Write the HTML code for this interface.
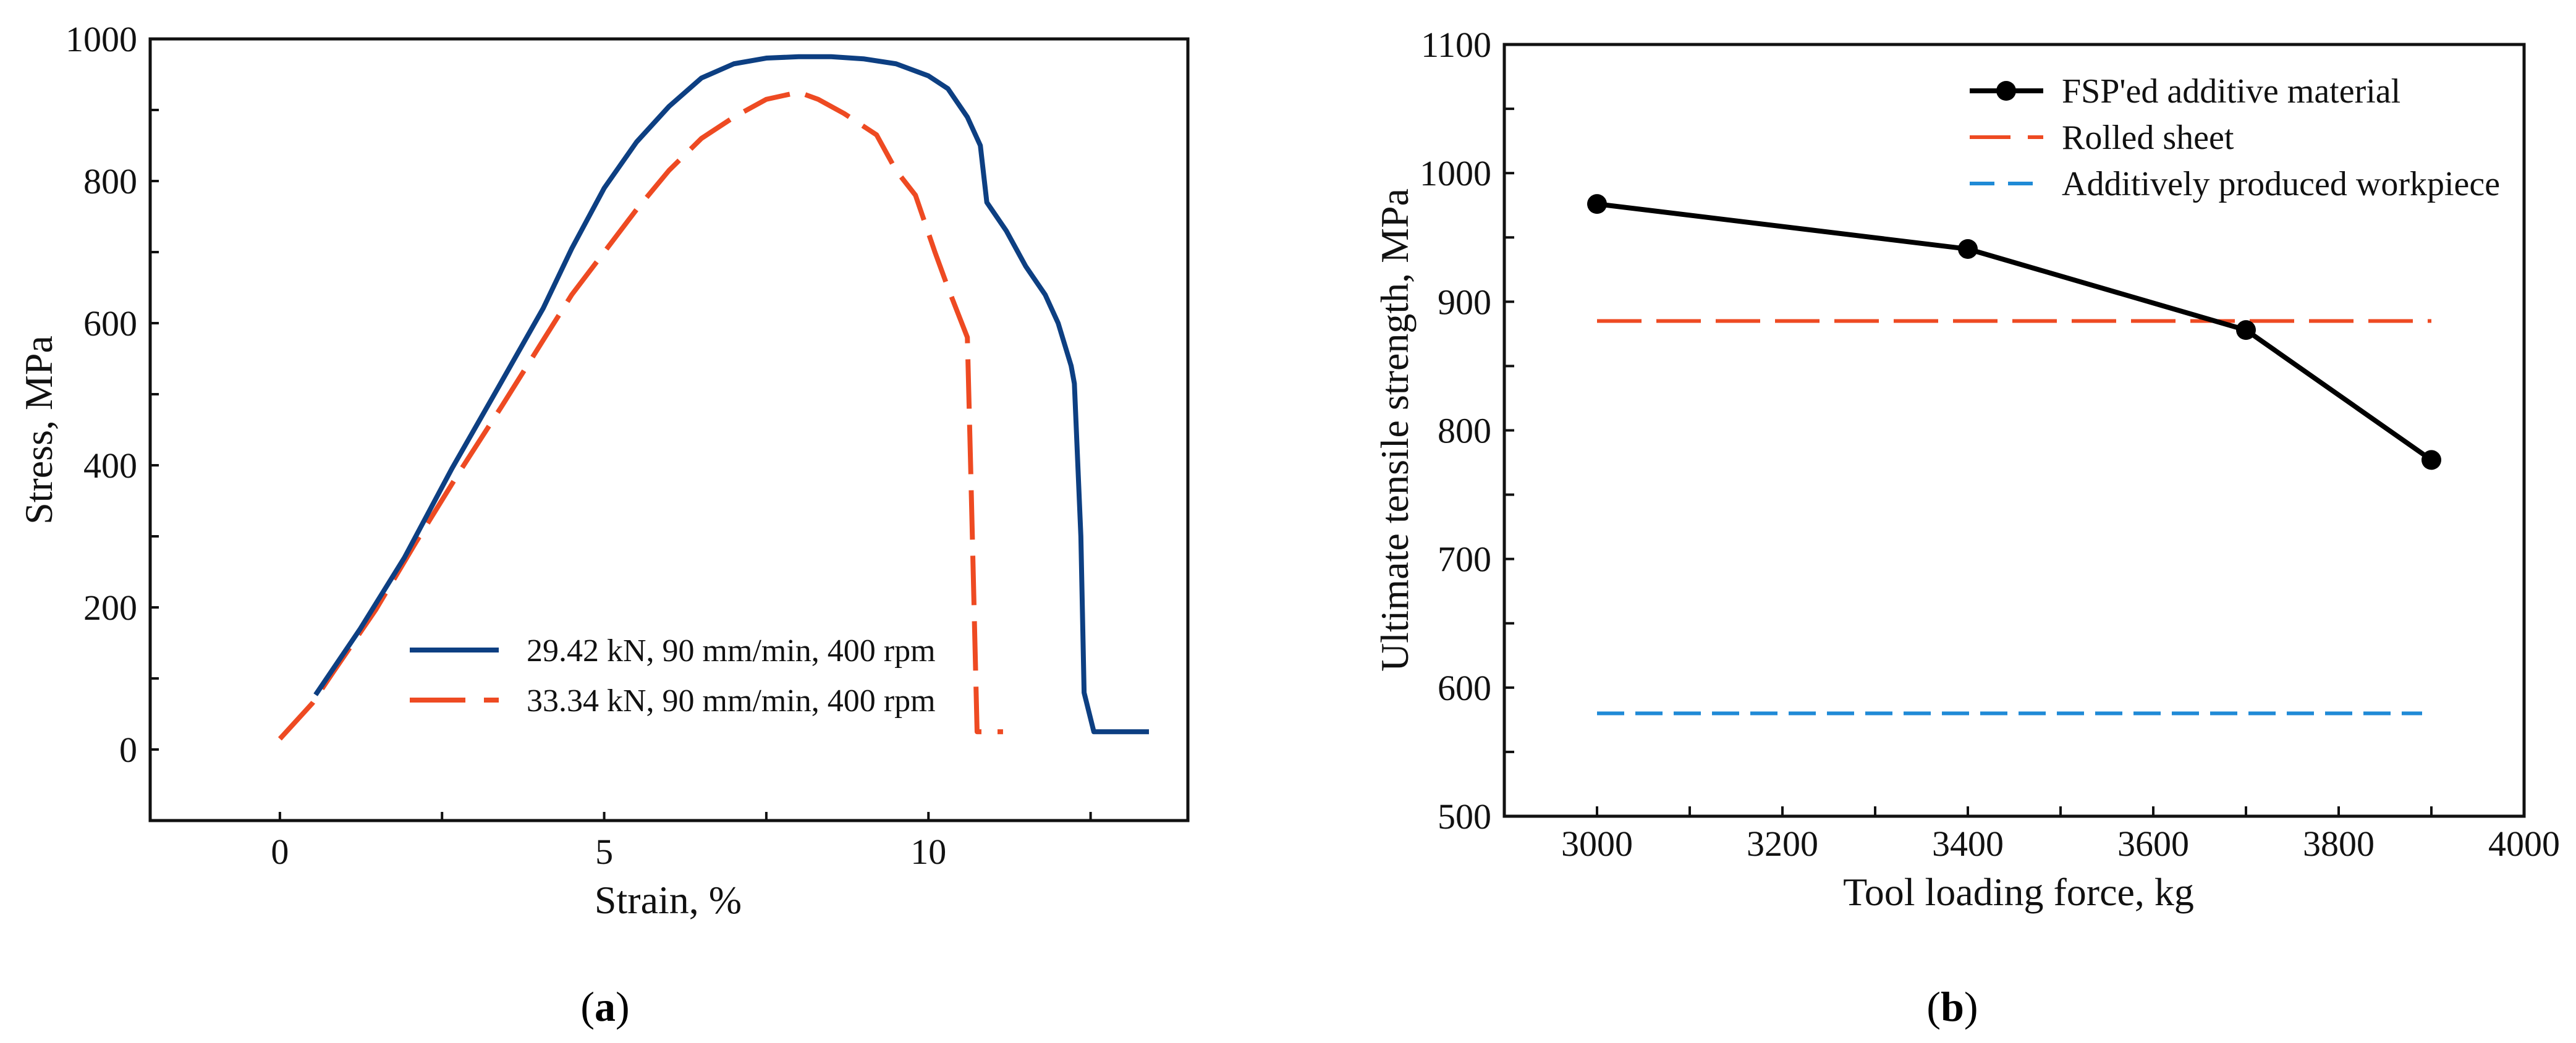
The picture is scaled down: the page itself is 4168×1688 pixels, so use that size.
<!DOCTYPE html>
<html><head><meta charset="utf-8">
<style>
html,body{margin:0;padding:0;background:#fff;}
svg{display:block;font-family:"Liberation Serif","Times New Roman",serif;}
</style></head>
<body>
<svg id="fig" width="4168" height="1688" viewBox="0 0 4168 1688" xmlns="http://www.w3.org/2000/svg">
<rect width="4168" height="1688" fill="#fff"/>
<g id="ga"></g>
<g id="gb"></g>
<text x="979" y="1652" font-size="68" text-anchor="middle">(<tspan font-weight="bold">a</tspan>)</text>
<text x="3159" y="1652" font-size="68" text-anchor="middle">(<tspan font-weight="bold">b</tspan>)</text>
</svg>
<script>
// ---- Chart (a) data ----
const strainBlue = [0.55,1.24,1.92,2.65,3.37,4.06,4.5,5.0,5.5,6.0,6.5,7.0,7.5,8.0,8.5,9.0,9.5,10.0,10.3,10.6,10.8,10.9,11.2,11.5,11.8,12.0,12.2,12.25,12.35,12.4,12.55,13.4];
const stressBlue = [77,170,270,395,510,621,705,790,855,905,945,965,973,975,975,972,965,948,930,890,850,770,730,680,640,600,540,515,300,80,25,25];
const strainRed = [0,0.5,0.8,1.48,2.1,2.75,3.42,4.08,4.5,5.0,5.5,6.0,6.5,7.0,7.5,8.0,8.3,8.7,9.2,9.5,9.8,10.1,10.3,10.6,10.65,10.75,11.15];
const stressRed = [15,65,106,197,292,388,483,579,640,700,760,815,860,890,915,925,915,895,865,815,780,700,650,580,400,25,25];
const xTicksA = [0,5,10];
const yTicksA = [0,200,400,600,800,1000];
// ---- Chart (b) data ----
const forceB = [3000,3400,3700,3900];
const utsB = [976,941,878,777];
const rolledSheet = 885;
const additiveWorkpiece = 580;
const xTicksB = [3000,3200,3400,3600,3800,4000];
const yTicksB = [500,600,700,800,900,1000,1100];

const NS="http://www.w3.org/2000/svg";
function mk(parent, tag, attrs){const e=document.createElementNS(NS,tag);for(const k in attrs)e.setAttribute(k,attrs[k]);parent.appendChild(e);return e;}

// Chart A
const ga=document.getElementById('ga');
const AL=243,AR=1922,AT=63,AB=1328;
const xA=v=>AL+(v-(-2))/(14-(-2))*(AR-AL);
const yA=v=>AB-(v-(-100))/(1000-(-100))*(AB-AT);
for(let v=0; v<=12.5; v+=2.5){
  const t=mk(ga,'line',{x1:xA(v),x2:xA(v),y1:AB,y2:AB-14,stroke:'#111','stroke-width':4});
   
}
for(let v=0; v<=1000; v+=100){
  const t=mk(ga,'line',{x1:AL,x2:AL+14,y1:yA(v),y2:yA(v),stroke:'#111','stroke-width':4});
   
}
xTicksA.forEach(v=>{const t=mk(ga,'text',{x:xA(v),y:1398,'font-size':58,'text-anchor':'middle',fill:'#111'});t.textContent=v;
   });
yTicksA.forEach(v=>{const t=mk(ga,'text',{x:222,y:yA(v)+20,'font-size':58,'text-anchor':'end',fill:'#111'});t.textContent=v;
   });
{const b=mk(ga,'rect',{x:AL,y:AT,width:AR-AL,height:AB-AT,fill:'none',stroke:'#111','stroke-width':5});
  }
{const p=mk(ga,'polyline',{points:strainRed.map((s,i)=>xA(s)+','+yA(stressRed[i])).join(' '),fill:'none',stroke:'#ee4a22','stroke-width':8,'stroke-dasharray':'80 26','stroke-linejoin':'round'});
  }
{const p=mk(ga,'polyline',{points:strainBlue.map((s,i)=>xA(s)+','+yA(stressBlue[i])).join(' '),fill:'none',stroke:'#0d3f82','stroke-width':8,'stroke-linejoin':'round'});
  }
// legend A
{const l=mk(ga,'line',{x1:663,x2:807,y1:1052,y2:1052,stroke:'#0d3f82','stroke-width':8});
  
 const t=mk(ga,'text',{x:852,y:1070,'font-size':52,fill:'#111'});t.textContent='29.42 kN, 90 mm/min, 400 rpm';
  
 const l2=mk(ga,'line',{x1:663,x2:807,y1:1133,y2:1133,stroke:'#ee4a22','stroke-width':8,'stroke-dasharray':'90 30'});
  
 const t2=mk(ga,'text',{x:852,y:1151,'font-size':52,fill:'#111'});t2.textContent='33.34 kN, 90 mm/min, 400 rpm';
  }
{const t=mk(ga,'text',{x:1081,y:1478,'font-size':64,'text-anchor':'middle',fill:'#111'});t.textContent='Strain, %';
  
 const t2=mk(ga,'text',{x:0,y:0,'font-size':64,'text-anchor':'middle',fill:'#111',transform:'translate(84,696) rotate(-90)'});t2.textContent='Stress, MPa';
  }

// Chart B
const gb=document.getElementById('gb');
const BL=2434,BR=4084,BT=72,BB=1321;
const xB=v=>BL+(v-2900)/(4000-2900)*(BR-BL);
const yB=v=>BB-(v-500)/(1100-500)*(BB-BT);
for(let v=3000; v<=3900; v+=100){
  const t=mk(gb,'line',{x1:xB(v),x2:xB(v),y1:BB,y2:BB-16,stroke:'#111','stroke-width':4});
   
}
for(let v=500; v<=1100; v+=50){
  const t=mk(gb,'line',{x1:BL,x2:BL+16,y1:yB(v),y2:yB(v),stroke:'#111','stroke-width':4});
   
}
xTicksB.forEach(v=>{const t=mk(gb,'text',{x:xB(v),y:1385,'font-size':58,'text-anchor':'middle',fill:'#111'});t.textContent=v;
   });
yTicksB.forEach(v=>{const t=mk(gb,'text',{x:2413,y:yB(v)+20,'font-size':58,'text-anchor':'end',fill:'#111'});t.textContent=v;
   });
{const b=mk(gb,'rect',{x:BL,y:BT,width:BR-BL,height:BB-BT,fill:'none',stroke:'#111','stroke-width':5});
  }
{const l=mk(gb,'line',{x1:xB(3000),x2:xB(3900),y1:yB(rolledSheet),y2:yB(rolledSheet),stroke:'#ee4a22','stroke-width':6,'stroke-dasharray':'72 24'});
  
 const l2=mk(gb,'line',{x1:xB(3000),x2:xB(3890),y1:yB(additiveWorkpiece),y2:yB(additiveWorkpiece),stroke:'#1f8ad6','stroke-width':6,'stroke-dasharray':'44 18'});
  }
{const p=mk(gb,'polyline',{points:forceB.map((f,i)=>xB(f)+','+yB(utsB[i])).join(' '),fill:'none',stroke:'#000','stroke-width':8,'stroke-linejoin':'round'});
  }
forceB.forEach((f,i)=>{const c=mk(gb,'circle',{cx:xB(f),cy:yB(utsB[i]),r:16,fill:'#000'});
   });
// legend B
{const l=mk(gb,'line',{x1:3187,x2:3306,y1:147,y2:147,stroke:'#000','stroke-width':8});
  
 const c=mk(gb,'circle',{cx:3246,cy:147,r:16,fill:'#000'});
  
 const l2=mk(gb,'line',{x1:3187,x2:3306,y1:222,y2:222,stroke:'#ee4a22','stroke-width':6,'stroke-dasharray':'66 28 25 100'});
  
 const l3=mk(gb,'line',{x1:3187,x2:3289,y1:297,y2:297,stroke:'#1f8ad6','stroke-width':6,'stroke-dasharray':'40 22'});
  
 const labels=["FSP'ed additive material","Rolled sheet","Additively produced workpiece"];
 const ys=[147,222,297];
 const nm=['legend-label-fsp','legend-label-rolled','legend-label-additive'];
 labels.forEach((s,i)=>{const t=mk(gb,'text',{x:3336,y:ys[i]+19,'font-size':56,fill:'#111'});t.textContent=s;
    });}
{const t=mk(gb,'text',{x:3266,y:1465,'font-size':64,'text-anchor':'middle',fill:'#111'});t.textContent='Tool loading force, kg';
  
 const t2=mk(gb,'text',{x:0,y:0,'font-size':64,'text-anchor':'middle',fill:'#111',transform:'translate(2278,696) rotate(-90)'});t2.textContent='Ultimate tensile strength, MPa';
  }
</script>
</body></html>
